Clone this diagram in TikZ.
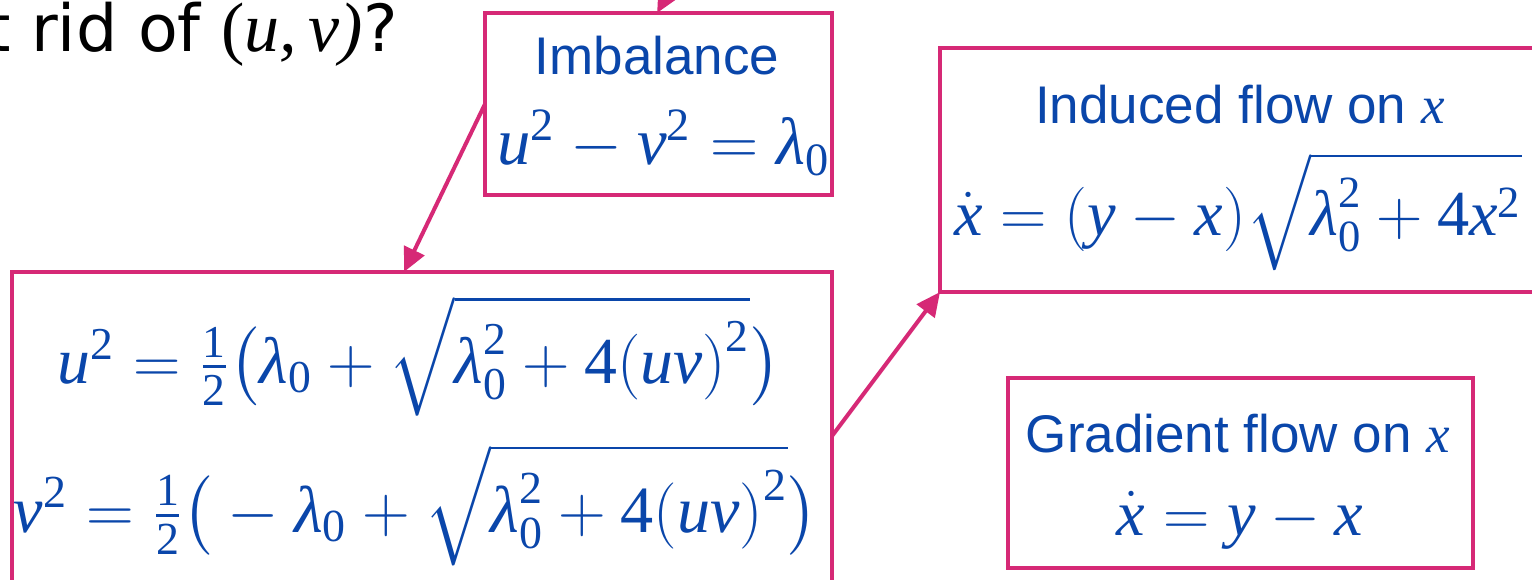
\documentclass[tikz,border=0pt]{standalone}
\usepackage{amsmath}
\usepackage{fontspec}
\setmainfont{Liberation Sans}
\setmathrm{Liberation Serif}
\newfontfamily\slidefont{DejaVu Sans}
\newfontfamily\serfont{Liberation Serif}
\newfontface\mitfont{Liberation Serif Italic}
\newcommand{\mi}[1]{\mathord{\hbox{\mitfont #1}}}
\newcommand{\rd}[1]{\mathrm{#1}}
\newcommand{\lp}{\mathopen{\mathrm{(}}}
\newcommand{\rp}{\mathclose{\mathrm{)}}}
\newcommand{\eqs}[2]{\scalebox{#1}{$#2$}}
\usetikzlibrary{arrows.meta,calc}
\definecolor{pinkb}{RGB}{214,41,118}
\definecolor{bluet}{RGB}{10,70,170}
\tikzset{
  box/.style={draw=pinkb, line width=4pt, rectangle, inner sep=0pt, outer sep=0pt, anchor=north west},
  conn/.style={draw=pinkb, line width=4pt, -{Triangle[length=24pt,width=22pt]}},
  lbl/.style={text=bluet, inner sep=0pt, anchor=base, font=\fontsize{53}{60}\selectfont},
  eqn/.style={text=bluet, inner sep=0pt, anchor=base, font=\fontsize{20.74}{25}\selectfont},
  headline/.style={text=black, inner sep=0pt, anchor=base west, font=\slidefont\fontsize{65}{76}\selectfont}
}
\begin{document}
\begin{tikzpicture}[x=1pt,y=-1pt]
\useasboundingbox (0,0) rectangle (1532,580);
\clip (0,0) rectangle (1532,580);
\fill[white] (0,0) rectangle (1532,580);
% heading
\node[headline] (head) at (-15,52) {t rid of {\serfont\fontsize{70}{76}\selectfont(\itshape u,\,v\/)}?};
% boxes
\node[box, minimum width=347pt, minimum height=182pt] (imb) at (485,13) {};
\node[box, minimum width=820pt, minimum height=328pt] (big) at (12,272) {};
\node[box, minimum width=600pt, minimum height=244pt] (ind) at (940,48) {};
\node[box, minimum width=465pt, minimum height=190pt] (grad) at (1008,378) {};
% texts
\node[lbl] (imbt) at (657,75) {Imbalance};
\node[eqn] (imbe) at (664,165) {\eqs{3.22}{\mi{u}^{\rd2} - \mi{v}^{\rd2} = \mi{λ}_{\rd0}}};
\node[eqn] (ue) at (419,383) {\eqs{3.17}{\mi{u}^{\rd2} = \tfrac{\rd1}{\rd2}\bigl(\mi{λ}_{\rd0} + \sqrt{\mi{λ}_{\rd0}^{\rd2} + \rd4\lp\mi{uv}\rp^{\rd2}}\bigr)}};
\node[eqn] (ve) at (416,532) {\eqs{3.19}{\mi{v}^{\rd2} = \tfrac{\rd1}{\rd2}\bigl({}-\mi{λ}_{\rd0} + \sqrt{\mi{λ}_{\rd0}^{\rd2} + \rd4\lp\mi{uv}\rp^{\rd2}}\bigr)}};
\node[lbl] (indt) at (1240,124) {Induced flow on {\mitfont x}};
\node[eqn] (inde) at (1238,236) {\eqs{3.1}{\dot{\mi{x}} = \lp\mi{y} - \mi{x}\rp\sqrt{\mi{λ}_{\rd0}^{\rd2} + \rd4\mi{x}^{\rd2}}}};
\node[lbl] (gradt) at (1238,452) {Gradient flow on {\mitfont x}};
\node[eqn] (grade) at (1240,535) {\eqs{3.1}{\dot{\mi{x}} = \mi{y} - \mi{x}}};
% connectors
\coordinate (src) at (712,-87);
\draw[conn] (src) -- ($(imb.north west)!0.496!(imb.north east)$);
\draw[conn] (imb.west) -- ($(big.north west)!0.478!(big.north east)$);
\draw[conn] (big.east) -- (ind.south west);
\end{tikzpicture}
\end{document}
